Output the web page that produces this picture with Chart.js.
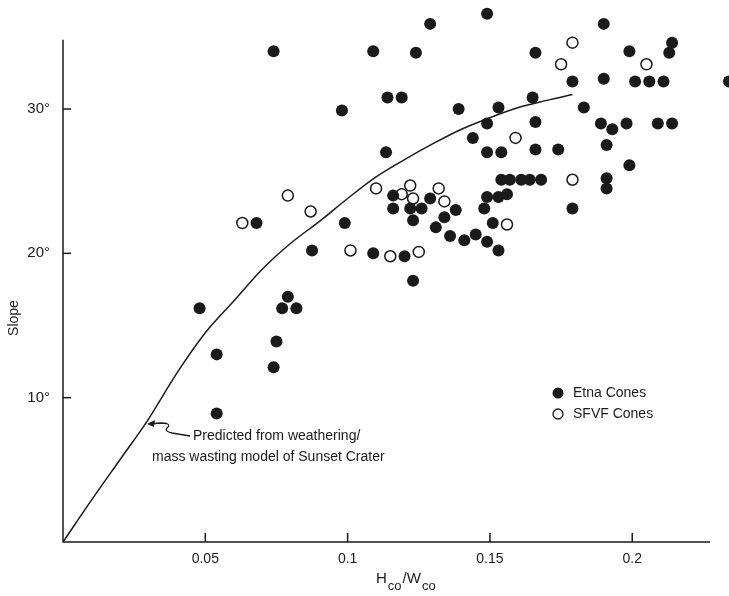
<!DOCTYPE html>
<html>
<head>
<meta charset="utf-8">
<script src="https://cdn.jsdelivr.net/npm/chart.js@4"></script>
<style>
  body { margin: 0; background: #fff; }
  canvas { display: block; }
</style>
</head>
<body>
<canvas id="myChart" width="729" height="596"></canvas>
<script>
// Etna cones (filled dots): H/W ratio and slope in degrees
const etnaX = [0.149, 0.129, 0.190, 0.074, 0.109, 0.124, 0.166, 0.199, 0.214, 0.213,
  0.179, 0.190, 0.201, 0.206, 0.211, 0.234, 0.114, 0.119, 0.165, 0.098,
  0.139, 0.153, 0.183, 0.149, 0.166, 0.189, 0.193, 0.198, 0.209, 0.214,
  0.144, 0.149, 0.154, 0.166, 0.174, 0.191, 0.199, 0.154, 0.157, 0.161,
  0.164, 0.168, 0.191, 0.191, 0.149, 0.153, 0.156, 0.148, 0.179, 0.129,
  0.122, 0.126, 0.123, 0.138, 0.134, 0.131, 0.136, 0.141, 0.145, 0.149,
  0.151, 0.153, 0.120, 0.123, 0.1135, 0.116, 0.116, 0.068, 0.099, 0.0875,
  0.109, 0.079, 0.048, 0.077, 0.082, 0.075, 0.054, 0.074, 0.054];
const etnaY = [36.6, 35.9, 35.9, 34.0, 34.0, 33.9, 33.9, 34.0, 34.6, 33.9,
  31.9, 32.1, 31.9, 31.9, 31.9, 31.9, 30.8, 30.8, 30.8, 29.9,
  30.0, 30.1, 30.1, 29.0, 29.1, 29.0, 28.6, 29.0, 29.0, 29.0,
  28.0, 27.0, 27.0, 27.2, 27.2, 27.5, 26.1, 25.1, 25.1, 25.1,
  25.1, 25.1, 25.2, 24.5, 23.9, 23.9, 24.1, 23.1, 23.1, 23.8,
  23.1, 23.1, 22.3, 23.0, 22.5, 21.8, 21.2, 20.9, 21.3, 20.8,
  22.1, 20.2, 19.8, 18.1, 27.0, 24.0, 23.1, 22.1, 22.1, 20.2,
  20.0, 17.0, 16.2, 16.2, 16.2, 13.9, 13.0, 12.1, 8.9];

// SFVF cones (open circles)
const sfvfX = [0.179, 0.175, 0.205, 0.159, 0.179, 0.122, 0.119, 0.123, 0.132, 0.134,
  0.156, 0.125, 0.110, 0.079, 0.087, 0.063, 0.101, 0.115];
const sfvfY = [34.6, 33.1, 33.1, 28.0, 25.1, 24.7, 24.1, 23.8, 24.5, 23.6,
  22.0, 20.1, 24.5, 24.0, 22.9, 22.1, 20.2, 19.8];

// predicted curve from the weathering / mass wasting model
const curveX = [0, 0.01, 0.02, 0.03, 0.04, 0.05, 0.06, 0.07, 0.08, 0.09,
  0.10, 0.11, 0.12, 0.13, 0.14, 0.15, 0.16, 0.17, 0.179];
const curveY = [0, 2.9, 5.7, 8.5, 11.7, 14.5, 16.7, 18.9, 20.7, 22.2,
  23.8, 25.3, 26.5, 27.6, 28.6, 29.4, 30.1, 30.6, 31.0];

const xTicks = [0.05, 0.1, 0.15, 0.2];
const xTickLabels = ["0.05", "0.1", "0.15", "0.2"];
const yTicks = [10, 20, 30];
const yTickLabels = ["10°", "20°", "30°"];

// drawn axis lines stop short of the plotting range (points spill past them)
const xAxisEnd = 0.2273;
const yAxisEnd = 34.8;

const ink = '#1a1a1a';
const fontFamily = "'Liberation Sans', Arial, sans-serif";

function toPoints(xs, ys) {
  return xs.map((x, i) => ({ x: x, y: ys[i] }));
}

// axis lines, inward tick marks, legend, annotation and axis titles
const extras = {
  id: 'extras',
  afterDraw(chart) {
    const ctx = chart.ctx;
    const xs = chart.scales.x, ys = chart.scales.y;
    const x0 = xs.getPixelForValue(0), y0 = ys.getPixelForValue(0);
    ctx.save();
    ctx.strokeStyle = ink;
    ctx.lineWidth = 1.5;
    ctx.beginPath();
    ctx.moveTo(x0, ys.getPixelForValue(yAxisEnd));
    ctx.lineTo(x0, y0);
    ctx.lineTo(xs.getPixelForValue(xAxisEnd), y0);
    ctx.stroke();
    xTicks.forEach(v => {
      const px = xs.getPixelForValue(v);
      ctx.beginPath();
      ctx.moveTo(px, y0);
      ctx.lineTo(px, y0 - 9);
      ctx.stroke();
    });
    yTicks.forEach(v => {
      const py = ys.getPixelForValue(v);
      ctx.beginPath();
      ctx.moveTo(x0, py);
      ctx.lineTo(x0 + 8, py);
      ctx.stroke();
    });

    // legend
    ctx.fillStyle = ink;
    ctx.font = '14px ' + fontFamily;
    ctx.textBaseline = 'middle';
    ctx.beginPath();
    ctx.arc(558, 393, 5.5, 0, Math.PI * 2);
    ctx.fill();
    ctx.fillText('Etna Cones', 573, 393);
    ctx.beginPath();
    ctx.lineWidth = 1.3;
    ctx.arc(558, 414, 5, 0, Math.PI * 2);
    ctx.stroke();
    ctx.fillText('SFVF Cones', 573, 414);

    // annotation with wavy arrow
    ctx.fillText('Predicted from weathering/', 193, 436);
    ctx.fillText('mass wasting model of Sunset Crater', 152, 457);
    ctx.lineWidth = 1.3;
    ctx.beginPath();
    ctx.moveTo(190, 436);
    ctx.lineTo(172, 433);
    ctx.quadraticCurveTo(163, 431, 168, 427);
    ctx.quadraticCurveTo(171, 423, 160, 423);
    ctx.lineTo(150, 424);
    ctx.stroke();
    ctx.beginPath();
    ctx.moveTo(147, 424);
    ctx.lineTo(155, 420);
    ctx.lineTo(154, 427);
    ctx.closePath();
    ctx.fill();

    // y title
    ctx.save();
    ctx.translate(14, 318);
    ctx.rotate(-Math.PI / 2);
    ctx.textAlign = 'center';
    ctx.font = '14px ' + fontFamily;
    ctx.fillText('Slope', 0, 0);
    ctx.restore();

    // x title: H_co / W_co
    ctx.textBaseline = 'alphabetic';
    const big = '15px ' + fontFamily, small = '13px ' + fontFamily;
    let x = 376;
    const base = 583;
    const parts = [['H', big, 0], ['co', small, 7], ['/W', big, 0], ['co', small, 7]];
    parts.forEach(p => {
      ctx.font = p[1];
      ctx.fillText(p[0], x, base + p[2]);
      x += ctx.measureText(p[0]).width + 1;
    });
    ctx.restore();
  }
};

const data = {
  datasets: [{
    label: 'Etna Cones',
    data: toPoints(etnaX, etnaY),
    pointRadius: 6,
    pointHoverRadius: 6,
    backgroundColor: ink,
    borderWidth: 0,
    clip: false
  }, {
    label: 'SFVF Cones',
    data: toPoints(sfvfX, sfvfY),
    pointRadius: 5.5,
    pointHoverRadius: 5.5,
    backgroundColor: '#fff',
    borderColor: ink,
    borderWidth: 1.5,
    clip: false
  }, {
    label: 'Predicted',
    type: 'line',
    data: toPoints(curveX, curveY),
    showLine: true,
    pointRadius: 0,
    borderColor: ink,
    borderWidth: 1.5,
    fill: false,
    cubicInterpolationMode: 'monotone'
  }]
};

const config = {
  type: 'scatter',
  data: data,
  options: {
    responsive: false,
    animation: false,
    layout: { autoPadding: false, padding: { top: 8, right: 0, left: 0, bottom: 0 } },
    scales: {
      x: {
        type: 'linear',
        min: 0,
        max: 0.234,
        afterBuildTicks: (scale) => { scale.ticks = xTicks.map(v => ({ value: v })); },
        afterFit: (scale) => {
          scale.height = 54;
          scale.paddingLeft = 0;
          scale.paddingRight = 0;
        },
        ticks: {
          padding: 9,
          color: ink,
          font: { size: 14, family: fontFamily },
          callback: (value) => xTickLabels[xTicks.indexOf(value)] || ''
        },
        grid: { display: false, drawTicks: false },
        border: { display: false }
      },
      y: {
        min: 0,
        max: 37,
        afterBuildTicks: (scale) => { scale.ticks = yTicks.map(v => ({ value: v })); },
        afterFit: (scale) => {
          scale.width = 63;
          scale.paddingTop = 0;
          scale.paddingBottom = 0;
        },
        ticks: {
          padding: 13,
          color: ink,
          font: { size: 15, family: fontFamily },
          callback: (value) => yTickLabels[yTicks.indexOf(value)] || ''
        },
        grid: { display: false, drawTicks: false },
        border: { display: false }
      }
    },
    plugins: {
      legend: { display: false },
      tooltip: { enabled: false }
    }
  },
  plugins: [extras]
};

const myChart = new Chart(document.getElementById('myChart'), config);
</script>
</body>
</html>
